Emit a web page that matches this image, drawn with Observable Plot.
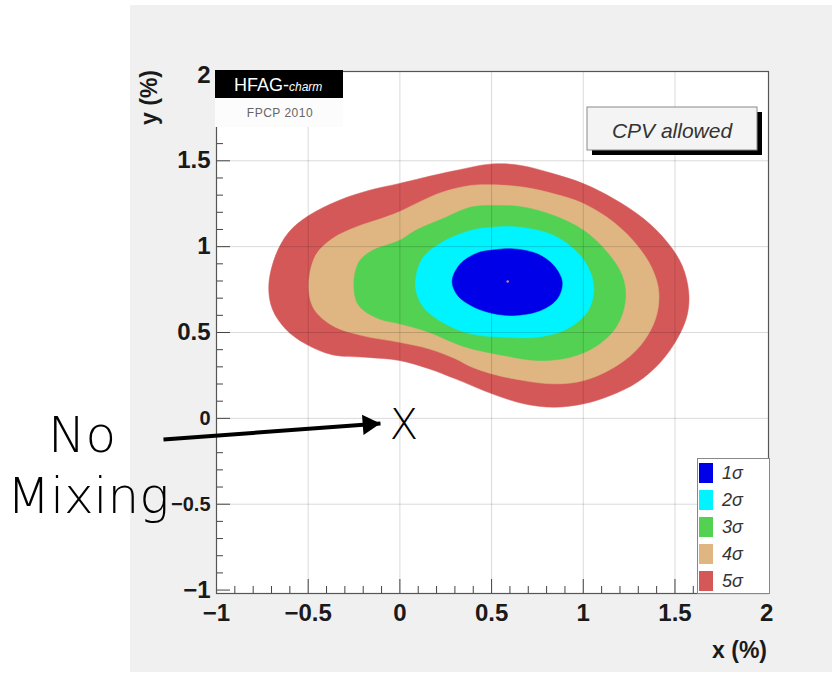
<!DOCTYPE html>
<html><head><meta charset="utf-8">
<script src="https://cdn.jsdelivr.net/npm/d3@7"></script>
<script src="https://cdn.jsdelivr.net/npm/@observablehq/plot@0.6"></script>
<style>
body{margin:0;background:#fff;}
#wrap{position:relative;width:832px;height:673px;overflow:hidden;font-family:"Liberation Sans",Arial,sans-serif;}
#bg{position:absolute;left:130px;top:5px;width:702px;height:667px;background:#f0f0f0;}
#chart{position:absolute;left:0;top:0;}
#over{position:absolute;left:0;top:0;pointer-events:none;}
</style></head>
<body><div id="wrap"><div id="bg"></div><div id="chart"></div><svg id="over" width="832" height="673"></svg></div>
<script>
// ---- data ----
const xTicks = [-1, -0.5, 0, 0.5, 1, 1.5, 2];
const xTickLabels = ["−1", "−0.5", "0", "0.5", "1", "1.5", "2"];
const yTicks = [-1, -0.5, 0, 0.5, 1, 1.5, 2];
const yTickLabels = ["−1", "−0.5", "0", "0.5", "1", "1.5", "2"];
const gridTicks = [-0.5, 0, 0.5, 1, 1.5];
const minorTicks = [-0.9, -0.8, -0.7, -0.6, -0.4, -0.3, -0.2, -0.1, 0.1, 0.2, 0.3, 0.4,
  0.6, 0.7, 0.8, 0.9, 1.1, 1.2, 1.3, 1.4, 1.6, 1.7, 1.8, 1.9];

const sigmaLabels = ["1σ", "2σ", "3σ", "4σ", "5σ"];
const sigmaColors = ["#0000e8", "#00f4ff", "#52d152", "#dfb682", "#d55858"];

const contour5 = [[-0.715,0.774],[-0.678,0.948],[-0.606,1.084],[-0.497,1.181],[-0.333,1.269],[-0.170,1.327],
  [-0.002,1.368],[0.122,1.400],[0.303,1.443],[0.503,1.482],[0.658,1.473],[0.839,1.424],[1.003,1.366],
  [1.166,1.279],[1.330,1.162],[1.458,1.026],[1.539,0.890],[1.575,0.735],[1.566,0.599],[1.512,0.463],
  [1.421,0.327],[1.294,0.210],[1.148,0.133],[1.003,0.085],[0.839,0.065],[0.676,0.085],[0.503,0.143],
  [0.303,0.230],[0.158,0.289],[-0.002,0.337],[-0.188,0.356],[-0.369,0.370],[-0.515,0.434],[-0.624,0.521],
  [-0.696,0.638]];
const contour4 = [[-0.497,0.774],[-0.460,0.948],[-0.369,1.046],[-0.242,1.113],[-0.097,1.165],[-0.010,1.200],
  [0.110,1.262],[0.231,1.317],[0.385,1.356],[0.503,1.360],[0.676,1.346],[0.839,1.308],[1.003,1.250],
  [1.166,1.142],[1.294,1.007],[1.376,0.871],[1.412,0.735],[1.394,0.580],[1.312,0.424],[1.185,0.308],
  [1.003,0.220],[0.839,0.201],[0.676,0.220],[0.503,0.259],[0.385,0.302],[0.303,0.347],[0.158,0.405],
  [-0.002,0.443],[-0.206,0.482],[-0.369,0.541],[-0.469,0.638]];
const contour3 = [[-0.251,0.774],[-0.224,0.909],[-0.151,0.977],[-0.002,1.036],[0.085,1.094],[0.231,1.162],
  [0.385,1.230],[0.503,1.240],[0.676,1.230],[0.839,1.181],[1.003,1.094],[1.130,0.968],[1.212,0.832],
  [1.230,0.696],[1.185,0.541],[1.076,0.424],[0.930,0.356],[0.749,0.337],[0.567,0.366],[0.385,0.407],
  [0.303,0.436],[0.158,0.502],[-0.002,0.551],[-0.115,0.580],[-0.224,0.657]];
const contour2 = [[0.085,0.774],[0.122,0.929],[0.231,1.026],[0.385,1.094],[0.503,1.113],[0.658,1.113],
  [0.839,1.065],[0.967,0.968],[1.039,0.851],[1.057,0.735],[1.021,0.618],[0.912,0.521],[0.749,0.473],
  [0.567,0.473],[0.385,0.492],[0.231,0.560],[0.122,0.657]];
const contour1 = [[0.285,0.800],[0.330,0.900],[0.420,0.962],[0.503,0.980],[0.621,0.987],[0.749,0.958],[0.839,0.890],
  [0.885,0.793],[0.858,0.696],[0.767,0.628],[0.621,0.599],[0.503,0.612],[0.400,0.650],[0.315,0.715]];
const bestFit = [[0.588, 0.797]];

// annotation: "No Mixing" point at origin
const noMixingPoint = [[0, 0]];
const arrowFrom = [-1.289, -0.123];
const arrowTo = [-0.106, -0.030];

const contours = [contour1, contour2, contour3, contour4, contour5];
const levels = sigmaLabels.map((label, i) => ({label, color: sigmaColors[i], points: contours[i]}));

const font = "'Liberation Sans', Arial, sans-serif";
const lightFont = "'DejaVu Sans ExtraLight', 'DejaVu Sans', sans-serif";

const chart = Plot.plot({
  width: 832, height: 673,
  marginLeft: 216, marginRight: 64, marginTop: 71, marginBottom: 80,
  style: {background: "transparent", overflow: "visible", fontFamily: font},
  x: {domain: [-1, 2.01]},
  y: {domain: [-1.02, 2.02]},
  marks: [
    Plot.frame({fill: "white", stroke: null}),
    ...levels.slice().reverse().map(l => Plot.line(l.points, {
      x: d => d[0], y: d => d[1], curve: "catmull-rom-closed",
      fill: l.color, stroke: l.color, strokeWidth: 0.5
    })),
    Plot.dot(bestFit, {x: d => d[0], y: d => d[1], r: 1.3, fill: "#e07a7a"}),
    Plot.gridX(gridTicks, {stroke: "black", strokeOpacity: 0.15}),
    Plot.gridY(gridTicks, {stroke: "black", strokeOpacity: 0.15}),
    Plot.axisX(xTicks, {anchor: "bottom", tickSize: -14, tickFormat: () => "", label: null, stroke: "#444"}),
    Plot.axisX(minorTicks, {anchor: "bottom", tickSize: -7, tickFormat: () => "", label: null, stroke: "#444"}),
    Plot.axisY(yTicks, {anchor: "left", tickSize: -14, tickFormat: () => "", label: null, stroke: "#444"}),
    Plot.axisY(minorTicks, {anchor: "left", tickSize: -7, tickFormat: () => "", label: null, stroke: "#444"}),
    Plot.text(xTicks, {x: d => d, frameAnchor: "bottom", dy: 10, lineAnchor: "top",
      text: (d, i) => xTickLabels[i], fontWeight: "bold", fontSize: 24, fill: "#1a1a1a"}),
    Plot.text(yTicks, {y: d => d, frameAnchor: "left", dx: -6, textAnchor: "end", lineAnchor: "middle",
      text: (d, i) => yTickLabels[i], fontWeight: "bold",
      fontSize: d => (d === 0 || d === -0.5) ? 20 : 24, fill: "#1a1a1a"}),
    Plot.frame({stroke: "#555", strokeWidth: 1.2}),
    Plot.link([[arrowFrom, arrowTo]], {x1: d => d[0][0], y1: d => d[0][1], x2: d => d[1][0], y2: d => d[1][1],
      stroke: "black", strokeWidth: 4}),
    Plot.dot([arrowTo], {x: d => d[0], y: d => d[1], symbol: "triangle", r: 7.6, rotate: 85.8,
      dx: -11.8, dy: 0.9, fill: "black", stroke: null}),
    Plot.text(noMixingPoint, {x: d => d[0], y: d => d[1], text: () => "X", dx: 4, dy: 7, lineAnchor: "middle",
      fontSize: 42, fontWeight: 200, fill: "black", fontFamily: lightFont})
  ]
});
document.getElementById("chart").append(chart);

// ---- overlay boxes & titles ----
const svg = d3.select("#over");
// HFAG box
svg.append("rect").attr("x", 215).attr("y", 70).attr("width", 128).attr("height", 28).attr("fill", "black");
const ht = svg.append("text").attr("x", 234).attr("y", 91).attr("fill", "white")
  .attr("font-family", font).attr("font-size", 18);
ht.append("tspan").text("HFAG-");
ht.append("tspan").attr("font-size", 12).attr("font-style", "italic").text("charm");
svg.append("rect").attr("x", 215).attr("y", 98).attr("width", 128).attr("height", 29).attr("fill", "#fcfcfc");
svg.append("text").attr("x", 280).attr("y", 117).attr("text-anchor", "middle").attr("fill", "#666")
  .attr("font-family", font).attr("font-size", 12).attr("letter-spacing", 0.5).text("FPCP  2010");

// CPV allowed box
svg.append("rect").attr("x", 592).attr("y", 112).attr("width", 170).attr("height", 43).attr("fill", "black");
svg.append("rect").attr("x", 587).attr("y", 107).attr("width", 170).attr("height", 43)
  .attr("fill", "#f4f4f4").attr("stroke", "#8a8a8a");
svg.append("text").attr("x", 672).attr("y", 138).attr("text-anchor", "middle").attr("fill", "#333")
  .attr("font-family", font).attr("font-style", "italic").attr("font-size", 21).text("CPV allowed");

// legend
svg.append("rect").attr("x", 697.5).attr("y", 458.5).attr("width", 72).attr("height", 135)
  .attr("fill", "white").attr("stroke", "#888");
levels.forEach((l, i) => {
  const cy = 473 + i * 27;
  svg.append("rect").attr("x", 699).attr("y", cy - 10).attr("width", 14).attr("height", 20).attr("fill", l.color);
  svg.append("text").attr("x", 722).attr("y", cy + 6).attr("fill", "#333").attr("font-family", font)
    .attr("font-style", "italic").attr("font-size", 18).text(l.label);
});

// axis titles
svg.append("text").attr("x", 767).attr("y", 658).attr("text-anchor", "end").attr("font-family", font)
  .attr("font-weight", "bold").attr("font-size", 23).attr("fill", "#1a1a1a").text("x (%)");
svg.append("text").attr("transform", "translate(157,70) rotate(-90)").attr("text-anchor", "end")
  .attr("font-family", font).attr("font-weight", "bold").attr("font-size", 23).attr("fill", "#1a1a1a").text("y (%)");

// "No Mixing" annotation
svg.append("text").attr("x", 48).attr("y", 452).attr("font-family", lightFont).attr("font-weight", 200)
  .attr("font-size", 50).attr("fill", "black").text("No");
svg.append("text").attr("x", 7).attr("y", 513).attr("font-family", lightFont).attr("font-weight", 200)
  .attr("font-size", 50).attr("fill", "black").text("Mixing");
</script>
</body></html>
